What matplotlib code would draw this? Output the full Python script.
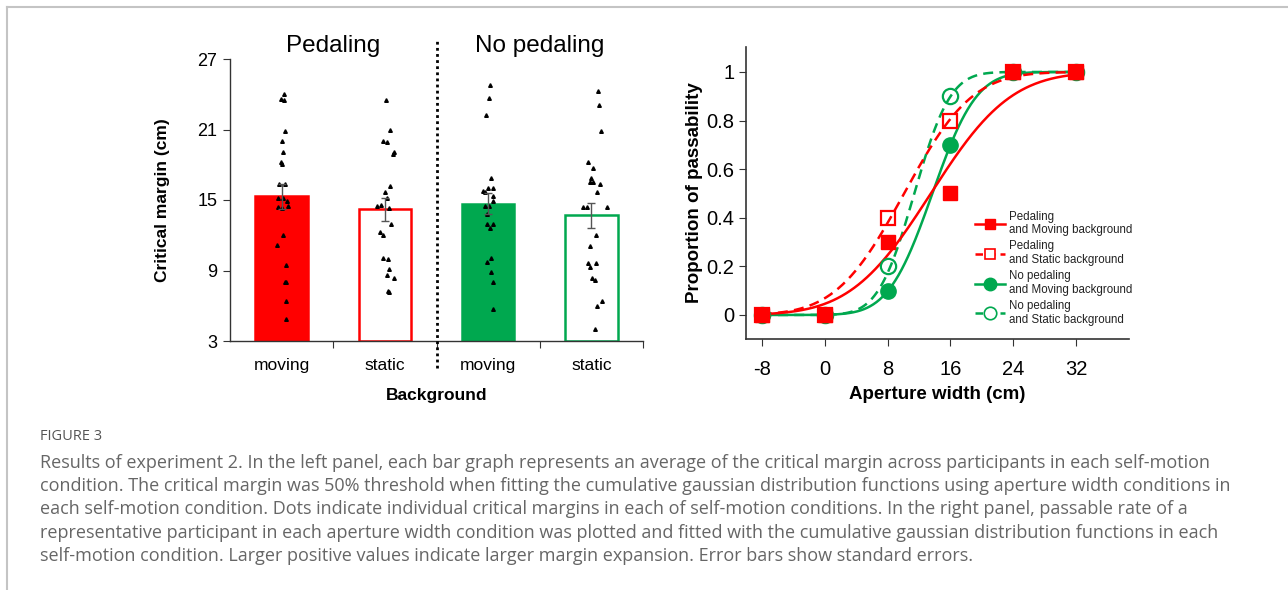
import math

import matplotlib
matplotlib.use("Agg")
import matplotlib.pyplot as plt
from matplotlib.lines import Line2D
import numpy as np

plt.rcParams["font.family"] = ["Liberation Sans", "DejaVu Sans"]
plt.rcParams["axes.unicode_minus"] = False

# ---- left panel data ----
bg_labels = ["moving", "static", "moving", "static"]
group_titles = ["Pedaling", "No pedaling"]
bar_means = [15.3, 14.2, 14.7, 13.7]
bar_sems = [1.05, 0.95, 0.9, 1.08]

dots_ped_moving = [24.0, 23.6, 23.5, 20.9, 20.0, 19.1, 18.2, 18.1, 16.4, 16.4, 15.2, 15.2,
                   14.9, 14.5, 14.4, 14.3, 12.0, 11.2, 9.45, 8.0, 8.0, 6.4, 4.9]
jit_ped_moving = [0.02, -0.01, 0.02, 0.03, 0.0, 0.01, -0.01, 0.0, -0.03, 0.035, -0.035, 0.01,
                  0.05, 0.06, -0.035, 0.0, 0.01, -0.045, 0.04, 0.03, 0.045, 0.04, 0.045]
dots_ped_static = [23.5, 21.0, 20.0, 19.95, 19.1, 18.9, 16.2, 15.7, 15.2, 14.6, 14.5, 14.3,
                   13.0, 12.3, 12.05, 10.07, 10.0, 9.16, 8.65, 8.37, 7.23, 7.15]
jit_ped_static = [0.01, 0.05, -0.02, 0.02, 0.09, 0.08, 0.05, 0.0, 0.02, -0.035, -0.08, 0.04,
                  0.06, -0.05, -0.02, -0.02, 0.03, 0.04, 0.02, 0.09, 0.035, 0.04]
dots_nop_moving = [24.8, 23.7, 22.25, 16.9, 16.0, 16.0, 15.8, 15.7, 15.3, 14.9, 14.5, 14.5,
                   13.8, 12.97, 12.97, 12.6, 10.07, 9.75, 8.9, 8.03, 5.7]
jit_nop_moving = [0.02, 0.01, -0.02, 0.03, 0.0, 0.05, -0.045, -0.03, 0.045, 0.05, -0.03, 0.01,
                  -0.01, -0.01, 0.045, 0.02, 0.03, -0.01, 0.03, 0.05, 0.045]
dots_nop_static = [24.26, 23.07, 20.9, 18.25, 17.7, 16.9, 16.5, 16.5, 16.37, 15.7, 14.4, 14.4,
                   14.4, 12.0, 11.1, 9.67, 9.6, 9.3, 8.37, 8.2, 6.38, 6.0, 4.0]
jit_nop_static = [0.06, 0.07, 0.09, -0.03, 0.02, 0.0, -0.01, 0.02, 0.085, 0.05, -0.08, -0.04,
                  0.15, 0.04, -0.01, -0.035, 0.04, -0.01, 0.01, 0.035, 0.1, 0.05, 0.035]

# ---- right panel data ----
aperture = [-8, 0, 8, 16, 24, 32]
p_ped_moving = [0, 0, 0.3, 0.5, 1, 1]
p_ped_static = [0, 0, 0.4, 0.8, 1, 1]
p_nop_moving = [0, 0, 0.1, 0.7, 1, 1]
p_nop_static = [0, 0, 0.2, 0.9, 1, 1]
# cumulative gaussian fit parameters (mu, sigma)
fit_ped_moving = (13.5, 8.0)
fit_ped_static = (10.1, 6.8)
fit_nop_moving = (13.7, 4.4)
fit_nop_static = (11.4, 3.6)

legend_labels = ["Pedaling\nand Moving background", "Pedaling\nand Static background",
                 "No pedaling\nand Moving background", "No pedaling\nand Static background"]

caption_head = "FIGURE 3"
caption_lines = [
    "Results of experiment 2. In the left panel, each bar graph represents an average of the critical margin across participants in each self-motion",
    "condition. The critical margin was 50% threshold when fitting the cumulative gaussian distribution functions using aperture width conditions in",
    "each self-motion condition. Dots indicate individual critical margins in each of self-motion conditions. In the right panel, passable rate of a",
    "representative participant in each aperture width condition was plotted and fitted with the cumulative gaussian distribution functions in each",
    "self-motion condition. Larger positive values indicate larger margin expansion. Error bars show standard errors.",
]

RED = "#ff0000"
GREEN = "#00a84f"
AX_COL = "#333333"


def cum_gauss(x, mu, sigma):
    return np.array([0.5 * (1.0 + math.erf((v - mu) / (sigma * math.sqrt(2.0)))) for v in x])


fig = plt.figure(figsize=(12.88, 5.90), dpi=100)

# frame lines of the figure box
fig.add_artist(Line2D([7 / 1288, 1.0], [1 - 7 / 590, 1 - 7 / 590], color="#c4c4c4", lw=1.5))
fig.add_artist(Line2D([7 / 1288, 7 / 1288], [0.0, 1 - 7 / 590], color="#c4c4c4", lw=1.5))

# ---------- left panel ----------
ax1 = fig.add_axes([230 / 1288, 249 / 590, 413 / 1288, 282 / 590])
xpos = np.arange(len(bar_means))
faces = [RED, "white", GREEN, "white"]
edges = [RED, RED, GREEN, GREEN]
ax1.bar(xpos, np.array(bar_means) - 3, bottom=3, width=0.51, color=faces,
        edgecolor=edges, linewidth=1.8, zorder=2)

groups = [(dots_ped_moving, jit_ped_moving), (dots_ped_static, jit_ped_static),
          (dots_nop_moving, jit_nop_moving), (dots_nop_static, jit_nop_static)]
for i, (vals, jit) in enumerate(groups):
    ax1.plot(i + np.array(jit), vals, linestyle="none", marker="^", markersize=2.6,
             color="black", zorder=4)

ax1.errorbar(xpos, bar_means, yerr=bar_sems, fmt="none", ecolor="#555555",
             elinewidth=1.0, capsize=3, capthick=1.0, zorder=5)

ax1.plot([1.5, 1.5], [0.7, 28.6], linestyle=(0, (1, 1.2)), color="black", lw=2.0,
         clip_on=False, zorder=6)

ax1.set_xlim(-0.5, 3.5)
ax1.set_ylim(3, 27)
ax1.set_yticks([3, 9, 15, 21, 27])
ax1.set_xticks([0.5, 1.5, 2.5, 3.5])
ax1.set_xticklabels([])
ax1.set_xticks(xpos, minor=True)
ax1.set_xticklabels(bg_labels, minor=True, fontsize=12.5)
ax1.tick_params(axis="x", which="minor", length=0, pad=12)
ax1.tick_params(axis="x", which="major", length=5, color=AX_COL)
ax1.tick_params(axis="y", labelsize=13, length=5, color=AX_COL, pad=4)
for s in ["top", "right"]:
    ax1.spines[s].set_visible(False)
for s in ["left", "bottom"]:
    ax1.spines[s].set_color(AX_COL)
    ax1.spines[s].set_linewidth(1.0)
ax1.set_ylabel("Critical margin (cm)", fontsize=12.5, fontweight="bold", labelpad=20)
ax1.set_xlabel("Background", fontsize=12.5, fontweight="bold", labelpad=11)
ax1.text(0.5, 27.2, group_titles[0], ha="center", va="bottom", fontsize=17.5)
ax1.text(2.5, 27.2, group_titles[1], ha="center", va="bottom", fontsize=17.5)

# ---------- right panel ----------
ax2 = fig.add_axes([746 / 1288, 250.7 / 590, 383 / 1288, 292.6 / 590])
xs = np.linspace(-8, 32, 300)

ax2.plot(xs, cum_gauss(xs, *fit_nop_static), color=GREEN, lw=1.8, ls=(0, (4, 2.5)))
ax2.plot(xs, cum_gauss(xs, *fit_nop_moving), color=GREEN, lw=1.8)
ax2.plot(xs, cum_gauss(xs, *fit_ped_static), color=RED, lw=1.8, ls=(0, (4, 2.5)))
ax2.plot(xs, cum_gauss(xs, *fit_ped_moving), color=RED, lw=1.8)

ax2.plot(aperture, p_nop_static, linestyle="none", marker="o", markersize=11,
         markerfacecolor="none", markeredgecolor=GREEN, markeredgewidth=1.6)
ax2.plot(aperture, p_nop_moving, linestyle="none", marker="o", markersize=11,
         color=GREEN)
ax2.plot(aperture, p_ped_static, linestyle="none", marker="s", markersize=9.5,
         markerfacecolor="none", markeredgecolor=RED, markeredgewidth=1.6)
ax2.plot(aperture, p_ped_moving, linestyle="none", marker="s", markersize=9.5,
         color=RED)

ax2.set_xlim(-10, 38.7)
ax2.set_ylim(-0.1, 1.104)
ax2.set_xticks(aperture)
ax2.set_yticks([0, 0.2, 0.4, 0.6, 0.8, 1])
ax2.set_yticklabels(["0", "0.2", "0.4", "0.6", "0.8", "1"])
ax2.tick_params(axis="both", labelsize=14.5, length=5, color=AX_COL)
ax2.tick_params(axis="x", pad=10)
for s in ["top", "right"]:
    ax2.spines[s].set_visible(False)
for s in ["left", "bottom"]:
    ax2.spines[s].set_color(AX_COL)
    ax2.spines[s].set_linewidth(1.2)
ax2.set_xlabel("Aperture width (cm)", fontsize=13.5, fontweight="bold", labelpad=5)
ax2.set_ylabel("Proportion of passability", fontsize=13.5, fontweight="bold", labelpad=2)

handles = [
    Line2D([0], [0], color=RED, lw=1.8, marker="s", markersize=7.5),
    Line2D([0], [0], color=RED, lw=1.8, ls=(0, (3, 2)), marker="s", markersize=7.5,
           markerfacecolor="white", markeredgewidth=1.2),
    Line2D([0], [0], color=GREEN, lw=1.8, marker="o", markersize=9),
    Line2D([0], [0], color=GREEN, lw=1.8, ls=(0, (3, 2)), marker="o", markersize=9,
           markerfacecolor="white", markeredgewidth=1.2),
]
leg = ax2.legend(handles, legend_labels, loc="lower right", bbox_to_anchor=(1.02, 0.03),
                 frameon=False, fontsize=8.3, handlelength=2.6, handletextpad=0.3,
                 labelspacing=0.35, borderaxespad=0.0)
for t in leg.get_texts():
    t.set_color("#222222")

# ---------- caption ----------
fig.text(40 / 1288, 1 - 436 / 590, caption_head, fontsize=10.5, color="#555555",
         family=["Open Sans", "DejaVu Sans"], va="center", ha="left")
for k, line in enumerate(caption_lines):
    fig.text(40 / 1288, 1 - (462.5 + k * 23.4) / 590, line, fontsize=13.0, color="#666666",
             family=["Open Sans", "DejaVu Sans"], va="center", ha="left")

fig.savefig("out.png", dpi=100)
